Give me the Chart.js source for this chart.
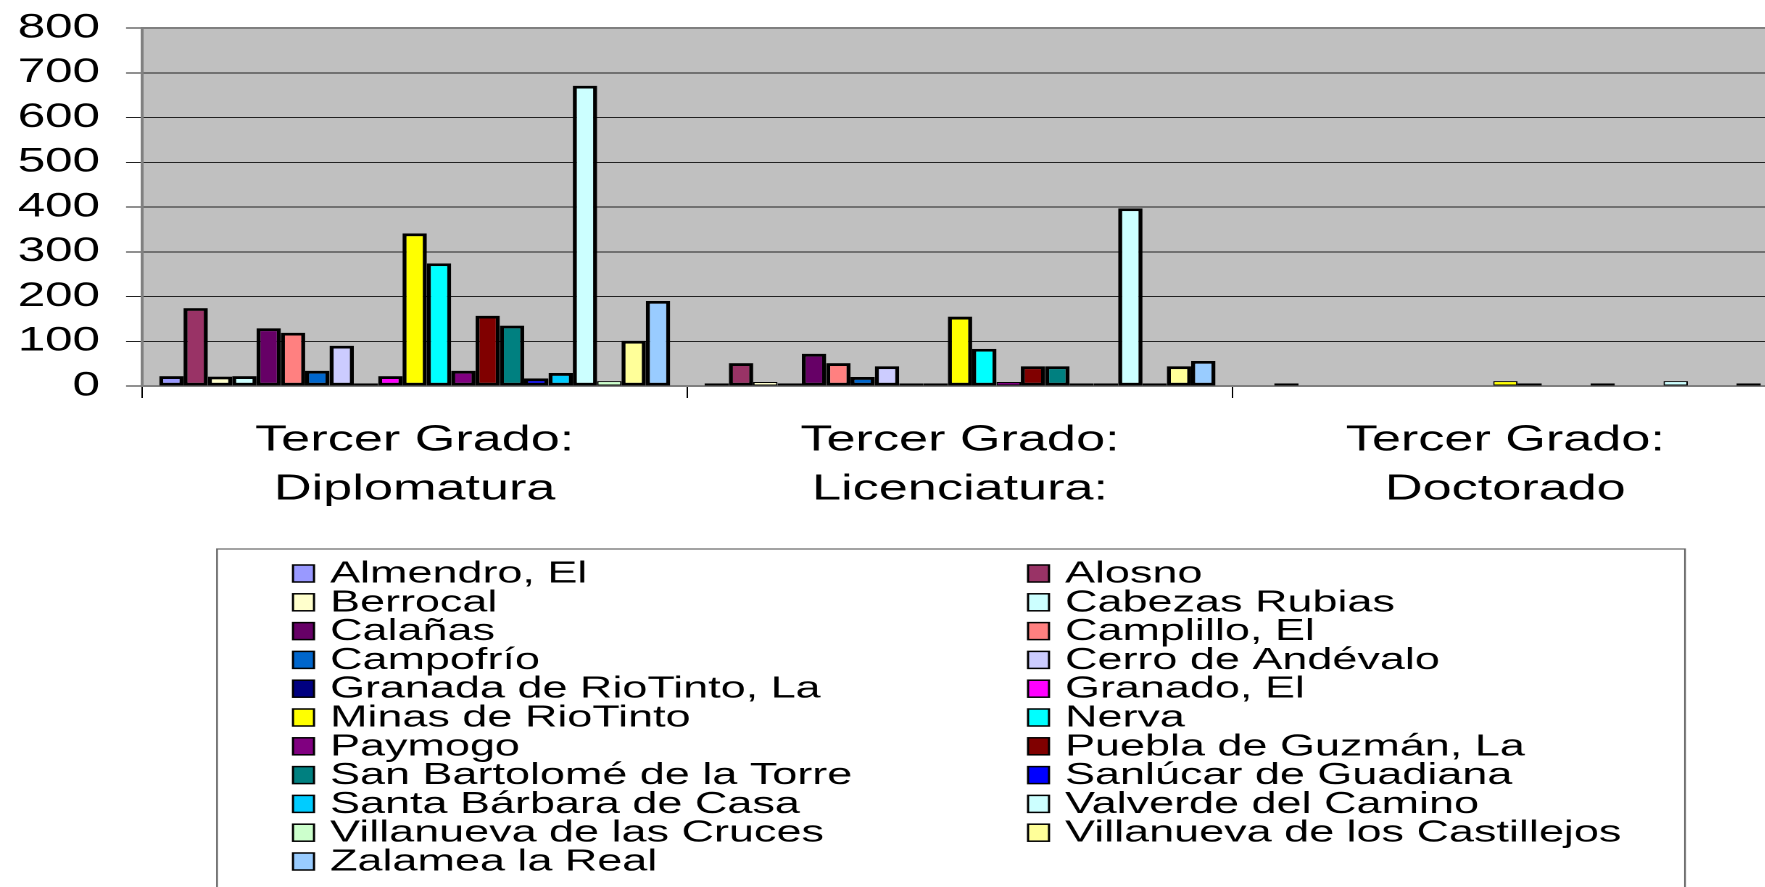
<!DOCTYPE html>
<html>
<head>
<meta charset="utf-8">
<script src="https://cdn.jsdelivr.net/npm/chart.js@4/dist/chart.umd.min.js"></script>
<style>
  html, body { margin: 0; padding: 0; background: #fff; overflow: hidden; }
  #wrap { position: absolute; left: 0; top: 0; height: 887px; transform-origin: 0 0; }
</style>
</head>
<body>
<div id="wrap"><canvas id="chart"></canvas></div>
<script>
// categorías (dos líneas cada una)
const categories = [
  ['Tercer Grado:', 'Diplomatura'],
  ['Tercer Grado:', 'Licenciatura:'],
  ['Tercer Grado:', 'Doctorado']
];

const municipios = [
  'Almendro, El', 'Alosno', 'Berrocal', 'Cabezas Rubias', 'Calañas', 'Camplillo, El',
  'Campofrío', 'Cerro de Andévalo', 'Granada de RioTinto, La', 'Granado, El',
  'Minas de RioTinto', 'Nerva', 'Paymogo', 'Puebla de Guzmán, La',
  'San Bartolomé de la Torre', 'Sanlúcar de Guadiana', 'Santa Bárbara de Casa',
  'Valverde del Camino', 'Villanueva de las Cruces', 'Villanueva de los Castillejos',
  'Zalamea la Real'
];

// valores por categoría, en el orden de municipios
const diplomatura  = [22, 174, 21, 22, 129, 119, 34, 90, 6, 22, 341, 274, 34, 157, 135, 17, 29, 671, 11, 101, 190];
const licenciatura = [6, 51, 9, 6, 72, 51, 20, 44, 6, 6, 155, 83, 9, 44, 44, 6, 6, 397, 6, 44, 56];
const doctorado    = [0, 6, 0, 0, 0, 0, 0, 0, 0, 0, 11, 6, 0, 0, 6, 0, 0, 11, 0, 0, 6];

const yTicks = [0, 100, 200, 300, 400, 500, 600, 700, 800];

const colores = [
  '#9999FF', '#993366', '#FFFFCC', '#CCFFFF', '#660066', '#FF8080', '#0066CC',
  '#CCCCFF', '#000080', '#FF00FF', '#FFFF00', '#00FFFF', '#800080', '#800000',
  '#008080', '#0000FF', '#00CCFF', '#CCFFFF', '#CCFFCC', '#FFFF99', '#99CCFF'
];

// el original está estirado en horizontal
const SX = 1.45;
const wrap = document.getElementById('wrap');
wrap.style.width = (1778 / SX) + 'px';
wrap.style.transform = 'scaleX(' + SX + ')';

const FONT = '"Liberation Sans", Arial, sans-serif';

const datasets = municipios.map((name, i) => ({
  label: name,
  data: [diplomatura[i], licenciatura[i], doctorado[i]],
  backgroundColor: colores[i],
  borderColor: '#000',
  // barras muy bajas: borde fino para que se vea el relleno
  borderWidth: c => (c.raw >= 8 && c.raw < 16) ? 1 : 2.8,
  borderSkipped: false,
  barPercentage: 1,
  categoryPercentage: 0.937
}));

const plotBg = {
  id: 'plotBg',
  beforeDraw(chart) {
    const { ctx, chartArea: a } = chart;
    ctx.save();
    ctx.fillStyle = '#C0C0C0';
    ctx.fillRect(a.left, a.top, a.right - a.left, a.bottom - a.top);
    ctx.restore();
  },
  afterDatasetsDraw(chart) {
    const { ctx, chartArea: a } = chart;
    ctx.save();
    ctx.strokeStyle = '#808080';
    ctx.lineWidth = 2;
    ctx.beginPath();
    ctx.moveTo(a.left, a.top);
    ctx.lineTo(a.right, a.top);
    ctx.stroke();
    ctx.restore();
  }
};

// leyenda en dos columnas dentro de un recuadro
const legendBox = {
  id: 'legendBox',
  afterDraw(chart) {
    const ctx = chart.ctx;
    ctx.save();
    ctx.strokeStyle = '#666';
    ctx.lineWidth = 1.2;
    ctx.strokeRect(217 / SX, 549, (1685 - 217) / SX, 400);
    ctx.font = '31px ' + FONT;
    ctx.textBaseline = 'middle';
    chart.data.datasets.forEach((ds, i) => {
      const col = i % 2;
      const row = Math.floor(i / 2);
      const cy = 573 + row * 28.8;
      const bx = (col ? 1028 : 293) / SX;
      const tx = (col ? 1065 : 330) / SX;
      ctx.fillStyle = ds.backgroundColor;
      ctx.fillRect(bx, cy - 8, 21 / SX, 17);
      ctx.strokeStyle = '#000';
      ctx.lineWidth = 1.5;
      ctx.strokeRect(bx, cy - 8, 21 / SX, 17);
      ctx.fillStyle = '#000';
      ctx.fillText(ds.label, tx, cy + 1);
    });
    ctx.restore();
  }
};

new Chart(document.getElementById('chart'), {
  type: 'bar',
  data: { labels: categories, datasets: datasets },
  plugins: [plotBg, legendBox],
  options: {
    responsive: true,
    maintainAspectRatio: false,
    animation: false,
    devicePixelRatio: 2,
    events: [],
    layout: { padding: { top: 28, left: 0, right: 0, bottom: 381 } },
    plugins: { legend: { display: false }, tooltip: { enabled: false } },
    scales: {
      x: {
        offset: true,
        grid: { drawOnChartArea: false, drawTicks: true, tickLength: 12, color: '#000', lineWidth: 1 },
        border: { display: true, color: '#808080', width: 2 },
        ticks: { color: '#000', font: { family: FONT, size: 36, lineHeight: 1.36 }, padding: 18, maxRotation: 0, autoSkip: false },
        afterFit(scale) { scale.height = 120; }
      },
      y: {
        min: 0,
        max: yTicks[yTicks.length - 1],
        afterBuildTicks(scale) { scale.ticks = yTicks.map(v => ({ value: v })); },
        grid: { color: '#222', lineWidth: 1, drawTicks: true, tickLength: 11 },
        border: { display: true, color: '#808080', width: 2 },
        ticks: { color: '#000', font: { family: FONT, size: 34 }, padding: 18, autoSkip: false },
        afterFit(scale) {
          scale.width = 142 / SX;
          scale.paddingTop = 10;
          scale.paddingBottom = 10;
        }
      }
    }
  }
});
</script>
</body>
</html>
